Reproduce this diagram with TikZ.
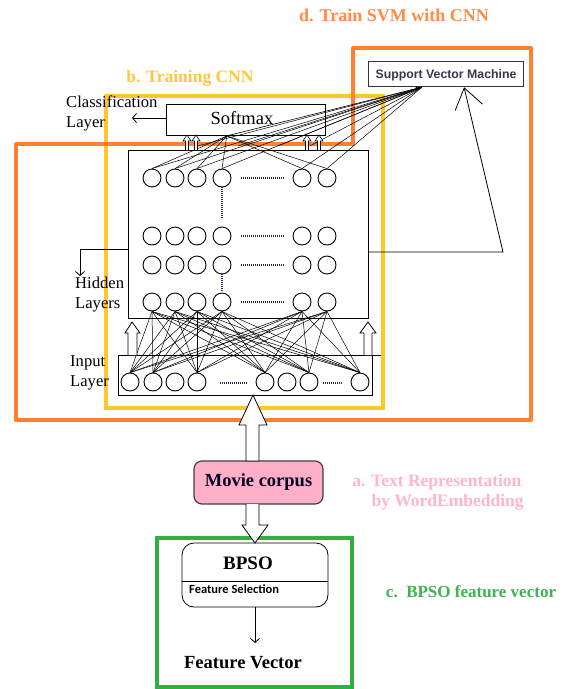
\documentclass[tikz,border=0pt]{standalone}
\usepackage{fontspec}
\setmainfont{Liberation Serif}
\newfontfamily\arialf{Liberation Sans}
\newfontfamily\calf{Carlito}
\usetikzlibrary{arrows.meta,calc}
\definecolor{orng}{RGB}{255,128,48}
\definecolor{orngtxt}{RGB}{255,140,70}
\definecolor{yel}{RGB}{255,200,40}
\definecolor{yeltxt}{RGB}{255,200,60}
\definecolor{grn}{RGB}{48,176,64}
\definecolor{grntxt}{RGB}{60,180,80}
\definecolor{pinkfill}{RGB}{255,176,200}
\definecolor{pinktxt}{RGB}{255,182,200}
\definecolor{svmtxt}{RGB}{55,55,80}
\definecolor{dotc}{RGB}{40,40,90}
\tikzset{
  neuron/.style={circle,draw,line width=0.9pt,minimum size=18pt,inner sep=0pt},
  boxn/.style={draw,line width=0.9pt,inner sep=0pt,anchor=north west},
  conn/.style={line width=0.5pt},
  barb/.style={-{Straight Barb[length=4pt,width=9pt]},line width=0.8pt},
  dotline/.style={dotc,line width=1.3pt,dash pattern=on 1pt off 1pt},
  lbl/.style={font=\fontsize{16.6}{20}\selectfont,align=left,inner sep=0pt,anchor=west},
  hollow/.style={draw,line width=0.8pt,fill=white}
}
\begin{document}
\begin{tikzpicture}[x=1pt,y=-1pt]
\useasboundingbox (0,0) rectangle (574,689);
\fill[white] (0,0) rectangle (574,689);

% coloured frames (behind)
\draw[yel,line width=4pt] (106,96) rectangle (383,408);
\draw[orng,line width=4pt,line join=round] (16,144) -- (353,144) -- (353,48) -- (531,48) -- (531,420) -- (16,420) -- cycle;
\draw[grn,line width=4pt] (157,538) rectangle (352,687);

% titles
\node[orngtxt,font=\bfseries\fontsize{18}{20}\selectfont] (tD) at (394,15) {d. Train SVM with CNN};
\node[yeltxt,font=\bfseries\fontsize{17.5}{20}\selectfont] (tB) at (190,78) {b. Training CNN};
\node[grntxt,font=\bfseries\fontsize{17}{20}\selectfont] (tC) at (471,592) {c.\ \ BPSO feature vector};
\node[pinktxt,font=\bfseries\fontsize{17.5}{20}\selectfont,align=left] (tA) at (438,492) {a. Text Representation\\\hspace*{1.1em}by WordEmbedding};

% boxes
\node[boxn,fill=white,minimum width=159pt,minimum height=31pt] (softmax) at (166,104) {};
\node[font=\fontsize{18.5}{20}\selectfont] at (242,118) {Softmax};
\node[boxn,fill=white,line width=1.2pt,draw=black!80,minimum width=155pt,minimum height=25pt] (svm) at (368,61) {};
\node[svmtxt,font=\arialf\bfseries\fontsize{12.3}{14}\selectfont] at (446,75) {Support Vector Machine};
\node[boxn,minimum width=240pt,minimum height=168pt] (hid) at (128,150) {};
\node[boxn,minimum width=254pt,minimum height=40pt] (inp) at (118,355) {};

\node[lbl] (clab) at (66,113) {Classification\\Layer};
\node[lbl] (hlab) at (75,295) {Hidden\\Layers};
\node[lbl] (ilab) at (70,373) {Input\\Layer};

% neurons
\foreach \r/\y in {a/178,b/236,c/265,d/302}{
  \foreach \i/\x in {1/152,2/175,3/197,4/222,5/302,6/327}{
    \node[neuron] (\r\i) at (\x,\y) {};
  }
  \draw[dotline] (241,\y) -- (284,\y);
}
\foreach \i/\x in {1/130,2/153,3/175,4/197,5/265,6/287,7/309,8/360}{
  \node[neuron] (in\i) at (\x,382) {};
}
\draw[dotline] (220,383) -- (248,383);
\draw[dotline] (323,383) -- (343,383);
\draw[dotline] (a4.south) -- (222,218);
\draw[dotline] (c4.south) -- (222,292);

% input -> hidden connections
\foreach \i in {1,2,4,5,7,8}{
  \foreach \j in {1,2,3,4,5,6}{
    \draw[conn] (in\i.north) -- (d\j.south);
  }
}

% top row -> softmax and SVM
\coordinate (smc) at ($(softmax.south west)!0.38!(softmax.south east)$);
\coordinate (svc) at ($(svm.south west)!0.345!(svm.south east)$);
\foreach \j in {1,2,3,4,5,6}{
  \draw[conn] (a\j.north) -- (smc);
  \draw[conn] (a\j.north) -- (svc);
}
\foreach \k in {0.2,0.45,0.7,0.9}{
  \draw[conn] ($(softmax.south west)!\k!(softmax.south east)+(0,10)$) -- (svc);
}
\draw[-{Latex[length=6pt,width=4pt]},line width=0.6pt] (smc) -- (svc);

% small hollow arrows hidden -> softmax
\foreach \x in {187,196,307,319}{
  \draw[hollow,line width=0.6pt] (\x-1.5,150) -- (\x-1.5,141) -- (\x-4,141) -- (\x,135) -- (\x+4,141) -- (\x+1.5,141) -- (\x+1.5,150);
}

% hollow arrows input -> hidden
\draw[hollow] (128,355) -- (128,333) -- (125,333) -- (132,322) -- (140,333) -- (137,333) -- (137,355);
\draw[hollow] (364,355) -- (364,333) -- (360,333) -- (368,322) -- (376,333) -- (372,333) -- (372,355);
\draw[line width=0.8pt] (inp.north east) -- ++(8,0);

% label arrows
\draw[barb] (166,118) -- (132,118);
\draw[barb] (128,249) -- (80,249) -- (80,276);

% SVM feedback arrow
\coordinate (fb) at (503,252);
\draw[line width=0.8pt,-{Straight Barb[length=20pt,width=28pt]}] (368,252) -- (fb) -- ($(svm.south west)!0.615!(svm.south east)$);

% movie corpus
\node[draw=black!75,line width=1.2pt,fill=pinkfill,rounded corners=8pt,minimum width=129pt,minimum height=43pt,inner sep=0pt,font=\bfseries\fontsize{18.5}{20}\selectfont,text=black!85!blue] (movie) at (258.5,482.5) {Movie corpus};

% big hollow arrow up (movie -> input)
\draw[hollow] (253,395) -- (267,425) -- (259,425) -- (259,461) -- (246,461) -- (246,425) -- (239,425) -- cycle;

% BPSO
\node[draw,line width=0.8pt,rounded corners=12pt,minimum width=146pt,minimum height=64pt,inner sep=0pt] (bpso) at (255,575) {};
\draw[line width=0.8pt] (182,581) -- (328,581);
\node[font=\bfseries\fontsize{19}{20}\selectfont] at (248,563) {BPSO};
\node[font=\calf\bfseries\fontsize{12.5}{14}\selectfont,anchor=west,inner sep=0pt] at (189,589) {Feature Selection};
% hollow arrow down (movie -> BPSO)
\draw[hollow] (246,504) -- (246,525) -- (242,525) -- (255,543) -- (268,525) -- (259,525) -- (259,504);
\node[font=\bfseries\fontsize{18.5}{20}\selectfont] (fv) at (243,663) {Feature Vector};
\draw[barb] (bpso.south) -- (255,643);
\end{tikzpicture}
\end{document}
